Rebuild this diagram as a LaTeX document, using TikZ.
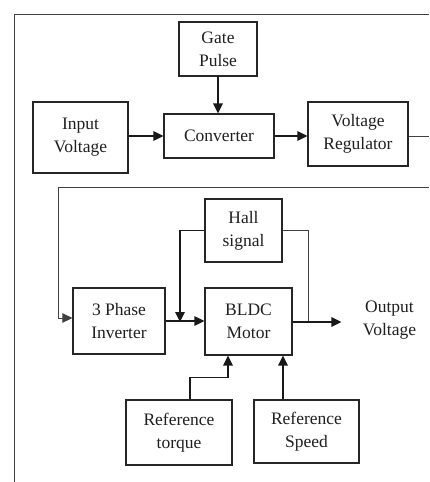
\documentclass[tikz,border=0pt]{standalone}
\usepackage{fontspec}
\setmainfont{Liberation Serif}
\usetikzlibrary{positioning,arrows.meta}

\begin{document}
\begin{tikzpicture}[x=1pt, y=-1pt, >={Triangle[length=10pt,width=9.5pt]},
  every node/.style={font=\fontsize{17.5}{23}\selectfont, text=black!88},
  blk/.style={draw=black!85, line width=1.2pt, align=center, inner sep=2pt},
  flow/.style={->, line width=1.5pt, black!90},
  wire/.style={line width=0.9pt, black!75}]
  \useasboundingbox (0,0) rectangle (429,482);
  % outer frame
  \draw[wire] (14,482) -- (14,14) -- (429,14);

  \node[blk, minimum width=78pt, minimum height=54pt] (gate) at (218,49) {Gate\\ Pulse};
  \node[blk, minimum width=95pt, minimum height=71pt] (inp) at (80.5,137.5) {Input\\ Voltage};
  \node[blk, minimum width=110pt, minimum height=44pt] (conv) at (219,136) {Converter};
  \node[blk, minimum width=100pt, minimum height=64pt] (vreg) at (358,134) {Voltage\\ Regulator};
  \node[blk, minimum width=77pt, minimum height=63pt] (hall) at (243.5,230.5) {Hall\\ signal};
  \node[blk, minimum width=92pt, minimum height=66pt] (inv) at (119,321) {3 Phase\\ Inverter};
  \node[blk, minimum width=87pt, minimum height=67pt] (motor) at (248.5,321.5) {BLDC\\ Motor};
  \node[align=center] (out) at (389.5,320) {Output\\ Voltage};
  \node[blk, minimum width=106pt, minimum height=65pt] (rtorq) at (179,432.5) {Reference\\ torque};
  \node[blk, minimum width=105pt, minimum height=63pt] (rspeed) at (306.5,431.5) {Reference\\ Speed};

  \coordinate (vrout) at (429,136);
  \coordinate (fbr) at (429,187);
  \coordinate (fbl) at (58,187);
  \coordinate (hj) at (180,322);
  \coordinate (hk) at (308,322);

  \draw[flow] (gate.south) -- (gate.south |- conv.north);
  \draw[flow] (inp.east |- conv.west) -- (conv.west);
  \draw[flow] (conv.east) -- (conv.east -| vreg.west);
  \draw[wire] (vreg.east |- vrout) -- (vrout);
  \draw[wire, ->] (fbr) -- (fbl) |- ([yshift=3pt]inv.west);
  \draw[flow, line width=1.2pt] (inv.east) -- (inv.east -| motor.west);
  \draw[flow] (hall.west) -| (hj);
  \draw[wire] (hall.east) -| (hk);
  \draw[flow] (motor.east |- hk) -- ([xshift=-18pt]out.west |- hk);
  \draw[flow] ([xshift=11pt]rtorq.north) -- ++(0,-22) -| ([xshift=-20.5pt]motor.south);
  \draw[flow] ([xshift=34.5pt]motor.south |- rspeed.north) -- ([xshift=34.5pt]motor.south);
\end{tikzpicture}
\end{document}
